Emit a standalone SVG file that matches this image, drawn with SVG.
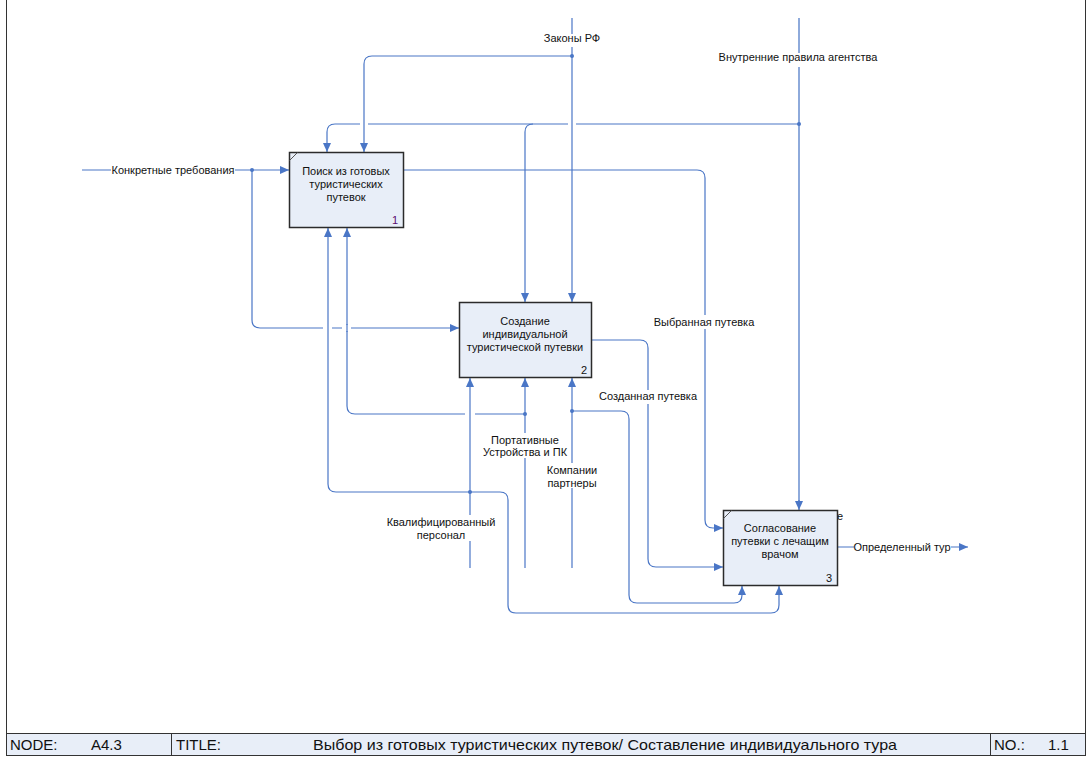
<svg xmlns="http://www.w3.org/2000/svg" width="1092" height="762" viewBox="0 0 1092 762">
<style>
.ln{fill:none;stroke:#4a76c6;stroke-width:1.2}
.lt{fill:none;stroke:#8eaadb;stroke-width:2}
.box{fill:#e8eef8;stroke:#2b2b2b;stroke-width:1.5}
.bt{font-family:"Liberation Sans",Arial,sans-serif;font-size:11px;fill:#111;text-anchor:middle}
.lb{font-family:"Liberation Sans",Arial,sans-serif;font-size:11px;fill:#111;text-anchor:middle}
.num{font-family:"Liberation Sans",Arial,sans-serif;font-size:11px;fill:#111;text-anchor:end}
.tb{font-family:"Liberation Sans Narrow","Liberation Sans",Arial,sans-serif;font-size:15px;fill:#111}
.dot{fill:#4a76c6}
.gap{fill:#ffffff}
</style>
<defs>
<marker id="ar" markerWidth="10" markerHeight="8" refX="9" refY="4" orient="auto" markerUnits="userSpaceOnUse">
<path d="M0,0 L9,4 L0,8 Z" fill="#4a76c6"/>
</marker>
</defs>
<rect x="0" y="0" width="1092" height="762" fill="#ffffff"/>
<g id="frame">
<path d="M6.5,0 V755.5 H1085.5 V0" fill="none" stroke="#333" stroke-width="1"/>
<rect x="6.5" y="733.5" width="1079" height="22" fill="#e8eef8" stroke="#333" stroke-width="1"/>
<line x1="171.5" y1="733.5" x2="171.5" y2="755.5" stroke="#333"/>
<line x1="990.5" y1="733.5" x2="990.5" y2="755.5" stroke="#333"/>
<text class="tb" x="10" y="750">NODE:</text>
<text class="tb" x="91" y="750">A4.3</text>
<text class="tb" x="176" y="750">TITLE:</text>
<text class="tb" x="313" y="750" textLength="584" lengthAdjust="spacingAndGlyphs">Выбор из готовых туристических путевок/ Составление индивидуального тура</text>
<text class="tb" x="994" y="750">NO.:</text>
<text class="tb" x="1048" y="750">1.1</text>
</g>
<g id="connectors">
<path class="ln" d="M82,170 H289" marker-end="url(#ar)"/>
<path class="ln" d="M252,170 V320 Q252,328 260,328 H459" marker-end="url(#ar)"/>
<path class="ln" d="M799,124 H335 Q327,124 327,132 V152" marker-end="url(#ar)"/>
<path class="ln" d="M533,124 Q525,124 525,132 V302" marker-end="url(#ar)"/>
<path class="ln" d="M525,414 H355 Q347,414 347,406 V228" marker-end="url(#ar)"/>
<rect class="gap" x="360" y="121" width="8" height="6"/>
<rect class="gap" x="568" y="121" width="8" height="6"/>
<rect class="gap" x="323" y="325" width="9" height="6"/>
<rect class="gap" x="342" y="325" width="9" height="6"/>
<rect class="gap" x="465" y="411" width="10" height="6"/>
<line class="ln" x1="347" y1="324" x2="347" y2="332"/>
<path class="ln" d="M572,18 V302" marker-end="url(#ar)"/>
<path class="ln" d="M572,56 H372 Q364,56 364,64 V152" marker-end="url(#ar)"/>
<path class="lt" d="M799,18 V502"/>
<path class="ln" d="M799,500 V510" marker-end="url(#ar)"/>
<path class="ln" d="M403,170 H697 Q705,170 705,178 V520 Q705,528 713,528 H723" marker-end="url(#ar)"/>
<path class="ln" d="M592,340 H640 Q648,340 648,348 V559 Q648,567 656,567 H723" marker-end="url(#ar)"/>
<path class="ln" d="M470,568 V378" marker-end="url(#ar)"/>
<path class="ln" d="M470,492 H336 Q328,492 328,484 V228" marker-end="url(#ar)"/>
<path class="ln" d="M470,492 H500 Q508,492 508,500 V605 Q508,613 516,613 H771 Q779,613 779,605 V586" marker-end="url(#ar)"/>
<path class="ln" d="M525,568 V378" marker-end="url(#ar)"/>
<path class="ln" d="M572,568 V378" marker-end="url(#ar)"/>
<path class="ln" d="M572,411 H621 Q629,411 629,419 V595 Q629,603 637,603 H734 Q742,603 742,595 V586" marker-end="url(#ar)"/>
<path class="ln" d="M837,547 H968" marker-end="url(#ar)"/>
<circle class="dot" cx="252" cy="170" r="2"/>
<circle class="dot" cx="572" cy="56" r="2"/>
<circle class="dot" cx="799" cy="124" r="2"/>
<circle class="dot" cx="470" cy="492" r="2"/>
<circle class="dot" cx="525" cy="414" r="2"/>
<circle class="dot" cx="572" cy="411" r="2"/>
</g>
<g id="labels">
<rect class="gap" x="111" y="163" width="124" height="14"/>
<text class="lb" x="173" y="174">Конкретные требования</text>
<rect class="gap" x="542" y="34" width="60" height="13"/>
<text class="lb" x="572" y="42">Законы РФ</text>
<rect class="gap" x="719" y="53" width="158" height="14"/>
<text class="lb" x="798" y="61">Внутренние правила агентства</text>
<rect class="gap" x="654" y="315" width="101" height="14"/>
<text class="lb" x="704" y="326">Выбранная путевка</text>
<rect class="gap" x="599" y="390" width="98" height="14"/>
<text class="lb" x="648" y="400">Созданная путевка</text>
<rect class="gap" x="487" y="433" width="76" height="25"/>
<text class="lb" x="525" y="444">Портативные</text>
<text class="lb" x="525" y="456">Устройства и ПК</text>
<rect class="gap" x="545" y="463" width="54" height="25"/>
<text class="lb" x="572" y="474">Компании</text>
<text class="lb" x="572" y="487">партнеры</text>
<rect class="gap" x="386" y="515" width="110" height="26"/>
<text class="lb" x="441" y="526">Квалифицированный</text>
<text class="lb" x="441" y="539">персонал</text>
<rect class="gap" x="854" y="540" width="97" height="14"/>
<text class="lb" x="902" y="551">Определенный тур</text>
<text class="lb" x="840" y="520">е</text>
</g>
<g id="node1">
<rect class="box" x="289.5" y="152.5" width="114" height="75"/>
<line x1="289.5" y1="160.5" x2="297.5" y2="152.5" stroke="#555" stroke-width="1"/>
<text class="bt" x="346" y="175">Поиск из готовых</text>
<text class="bt" x="346" y="188">туристических</text>
<text class="bt" x="346" y="201">путевок</text>
<text class="num" x="398" y="224" style="fill:#5a0a6e">1</text>
</g>
<g id="node2">
<rect class="box" x="459.5" y="302.5" width="132" height="75"/>
<text class="bt" x="525" y="325">Создание</text>
<text class="bt" x="525" y="338">индивидуальной</text>
<text class="bt" x="525" y="351">туристической путевки</text>
<text class="num" x="587" y="374">2</text>
</g>
<g id="node3">
<rect class="box" x="723.5" y="510.5" width="114" height="75"/>
<line x1="723.5" y1="518.5" x2="731.5" y2="510.5" stroke="#555" stroke-width="1"/>
<text class="bt" x="780" y="532">Согласование</text>
<text class="bt" x="780" y="545">путевки с лечащим</text>
<text class="bt" x="780" y="558">врачом</text>
<text class="num" x="832" y="582">3</text>
</g>
</svg>
